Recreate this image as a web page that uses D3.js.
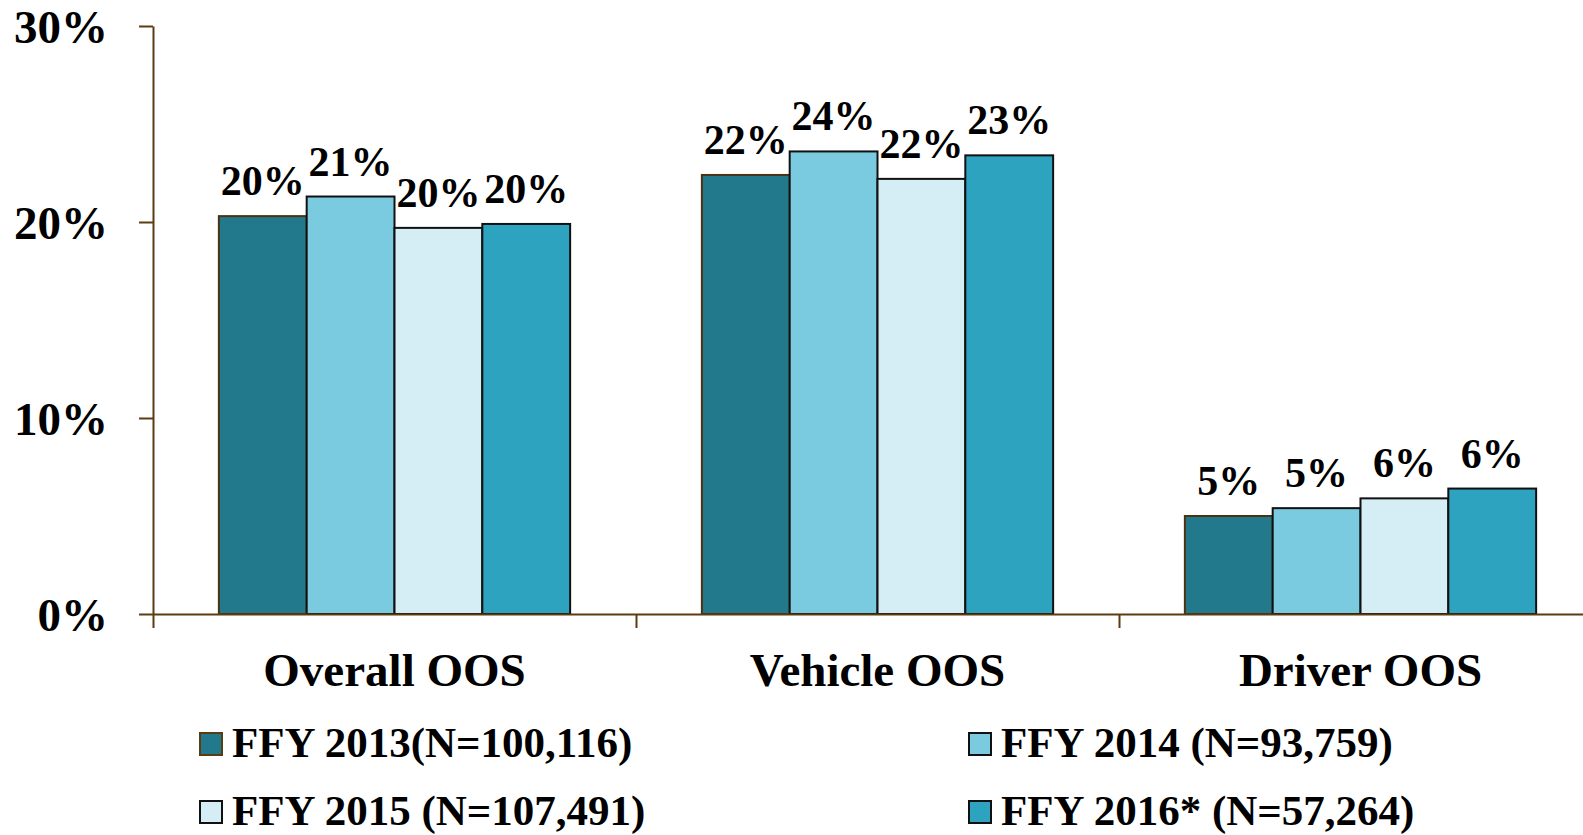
<!DOCTYPE html>
<html>
<head>
<meta charset="utf-8">
<script src="https://cdn.jsdelivr.net/npm/d3@7"></script>
<style>
body { margin: 0; background: #fff; }
svg { display: block; font-family: "Liberation Serif", "Times New Roman", serif; font-weight: bold; }
.axis path, .axis line { stroke: #5c3a12; stroke-width: 2; }
</style>
</head>
<body>
<svg width="1583" height="835"></svg>
<script>
var categories = ["Overall OOS", "Vehicle OOS", "Driver OOS"];
var seriesNames = ["FFY 2013(N=100,116)", "FFY 2014 (N=93,759)", "FFY 2015 (N=107,491)", "FFY 2016* (N=57,264)"];
var seriesColors = ["#22798c", "#7bcbe0", "#d5edf4", "#2ea3bf"];
var fy2013 = [0.203, 0.224, 0.050];
var fy2014 = [0.213, 0.236, 0.054];
var fy2015 = [0.197, 0.222, 0.059];
var fy2016 = [0.199, 0.234, 0.064];
var barLabels = [["20%", "22%", "5%"], ["21%", "24%", "5%"], ["20%", "22%", "6%"], ["20%", "23%", "6%"]];
var yTicks = [0, 0.1, 0.2, 0.3];

var allSeries = [fy2013, fy2014, fy2015, fy2016];

var svg = d3.select("svg");

var left = 153, bandW = 483;
var y = d3.scaleLinear().domain([0, 0.3]).range([614, 26]);
var x = d3.scaleBand().domain(categories).range([left, left + bandW * categories.length]);
var xs = d3.scaleBand().domain(d3.range(seriesNames.length)).range([0, x.bandwidth()]).paddingOuter(0.75);
var tickPos = d3.scaleLinear().domain([0, categories.length]).range(x.range());

// bars
allSeries.forEach(function (vals, s) {
	svg.selectAll(".bar" + s)
	.data(vals)
	.enter().append("rect")
	.attr("x", function (d, i) { return x(categories[i]) + xs(s); })
	.attr("y", function (d) { return y(d); })
	.attr("width", xs.bandwidth())
	.attr("height", function (d) { return y(0) - y(d); })
	.style("fill", seriesColors[s])
	.style("stroke", s == 0 ? "#4a3212" : "#111")
	.style("stroke-width", 2);

	svg.selectAll(".lab" + s)
	.data(vals)
	.enter().append("text")
	.attr("x", function (d, i) { return x(categories[i]) + xs(s) + xs.bandwidth() / 2; })
	.attr("y", function (d) { return y(d) - 21; })
	.attr("text-anchor", "middle")
	.attr("font-size", "42px")
	.text(function (d, i) { return barLabels[s][i]; });
});

// y axis
var yAxis = svg.append("g")
.attr("class", "axis")
.attr("transform", "translate(" + left + ",0)")
.call(d3.axisLeft(y).tickValues(yTicks).tickFormat(d3.format(".0%")).tickSize(14).tickSizeOuter(0).tickPadding(31));
yAxis.selectAll("text").attr("font-size", "47px").attr("font-family", "Liberation Serif").attr("font-weight", "bold").attr("fill", "#000").attr("dy", "0.36em");

// x axis
svg.append("g")
.attr("class", "axis")
.attr("transform", "translate(0," + y(0) + ")")
.call(d3.axisBottom(tickPos).ticks(3).tickFormat("").tickSize(14).tickSizeOuter(0));

svg.selectAll(".cat")
.data(categories)
.enter().append("text")
.attr("x", function (d) { return x(d) + x.bandwidth() / 2; })
.attr("y", 686)
.attr("text-anchor", "middle")
.attr("font-size", "47px")
.text(function (d) { return d; });

// legend
var legX = [200, 969], legY = [757, 825];
seriesNames.forEach(function (name, i) {
	var lx = legX[i % 2], ly = legY[Math.floor(i / 2)];
	svg.append("rect")
	.attr("x", lx)
	.attr("y", ly - 24)
	.attr("width", 22)
	.attr("height", 22)
	.style("fill", seriesColors[i])
	.style("stroke", i == 0 ? "#5c3a12" : "#111")
	.style("stroke-width", 2);
	svg.append("text")
	.attr("x", lx + 32)
	.attr("y", ly)
	.attr("font-size", "43px")
	.text(name);
});
</script>
</body>
</html>
